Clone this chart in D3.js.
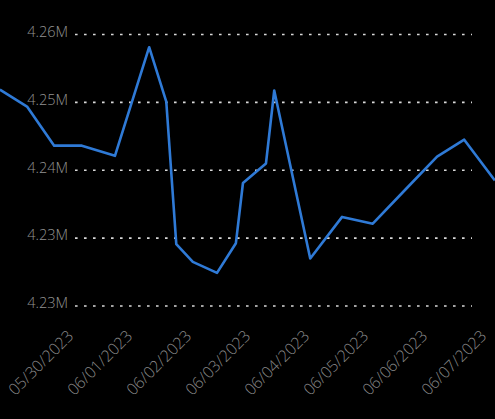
<!DOCTYPE html>
<html>
<head>
<meta charset="utf-8">
<script src="https://cdn.jsdelivr.net/npm/d3@7"></script>
<style>
  html, body { margin: 0; padding: 0; background: #000; }
  svg { display: block; }
</style>
</head>
<body>
<svg id="chart" width="495" height="419"></svg>
<script>
// ---- data ----
const dateLabels = ["05/30/2023","06/01/2023","06/02/2023","06/03/2023","06/04/2023","06/05/2023","06/06/2023","06/07/2023"];
// position of each sample along the date axis (in label units: 0 = 05/30, 1 = 06/01, ...)
const pointPos = [-1.29,-0.83,-0.37,0.10,0.66,1.24,1.53,1.70,1.98,2.39,2.71,2.83,3.22,3.36,3.97,4.51,5.03,5.58,6.12,6.58,7.10];
// values in millions
const values = [4.2515,4.2495,4.2449,4.2449,4.2437,4.2565,4.2501,4.2333,4.2312,4.2299,4.2334,4.2405,4.2428,4.2514,4.2316,4.2365,4.2357,4.2397,4.2436,4.2456,4.2408];
const yTickValues = [4.258,4.250,4.242,4.234,4.226];
const yTickLabels = ["4.26M","4.25M","4.24M","4.23M","4.23M"];

// ---- layout ----
const W = 495, H = 419;
const svg = d3.select("#chart");

const x = d3.scaleLinear().domain([0, 7]).range([76, 489]);
const y = d3.scaleLinear().domain([4.226, 4.258]).range([306, 34.5]);

// gridlines + y labels
const yAxis = d3.axisLeft(y)
  .tickValues(yTickValues)
  .tickFormat((d, i) => yTickLabels[i])
  .tickSize(0)
  .tickPadding(7);

const gy = svg.append("g").attr("transform", "translate(75,0)").call(yAxis);
gy.select(".domain").remove();
gy.selectAll("text")
  .attr("fill", "#929292")
  .attr("font-family", "'Open Sans', sans-serif")
  .attr("font-size", "14.5px")
  .attr("font-weight", 300)
  .attr("dy", "0.12em");

svg.append("g").selectAll("line")
  .data(yTickValues)
  .join("line")
  .attr("x1", 75).attr("x2", 472)
  .attr("y1", d => y(d)).attr("y2", d => y(d))
  .attr("stroke", "#d8d8d8")
  .attr("stroke-width", 1.6)
  .attr("stroke-dasharray", "2.6,6.4");

// x axis labels
const xAxis = d3.axisBottom(x)
  .tickValues(d3.range(dateLabels.length))
  .tickFormat((d, i) => dateLabels[i])
  .tickSize(0)
  .tickPadding(0);

const gx = svg.append("g").attr("transform", "translate(0,338)").call(xAxis);
gx.select(".domain").remove();
gx.selectAll("text")
  .attr("fill", "#868686")
  .attr("font-family", "'Open Sans', sans-serif")
  .attr("font-size", "16px")
  .attr("font-weight", 300)
  .attr("text-anchor", "end")
  .attr("dy", "0")
  .attr("transform", "translate(-2,-1) rotate(-45)");

// line
const data = pointPos.map((p, i) => ({ p, v: values[i] }));
const line = d3.line().x(d => x(d.p)).y(d => y(d.v));

svg.append("path")
  .datum(data)
  .attr("fill", "none")
  .attr("stroke", "#2f7ad6")
  .attr("stroke-width", 2.6)
  .attr("stroke-linejoin", "round")
  .attr("d", line);
</script>
</body>
</html>
